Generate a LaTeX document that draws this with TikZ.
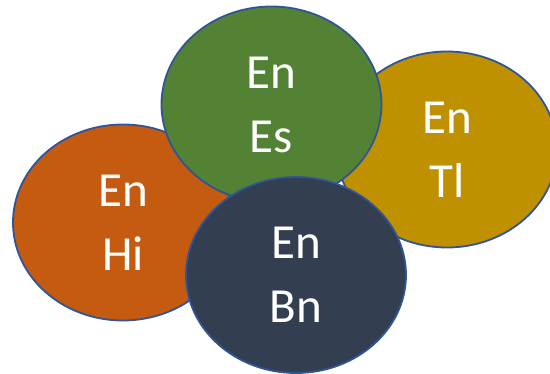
\documentclass[tikz,border=0pt]{standalone}
\usepackage{fontspec}
\setmainfont{Carlito}
\usepackage{tikz}
\usetikzlibrary{shapes.geometric}

\definecolor{rimblue}{HTML}{2F5597}
\definecolor{hiorange}{HTML}{C55A11}
\definecolor{esgreen}{HTML}{548235}
\definecolor{tlgold}{HTML}{BF9000}
\definecolor{bnslate}{HTML}{333F50}

\begin{document}
\begin{tikzpicture}[x=1pt,y=-1pt,
	lang/.style={ellipse,draw=rimblue,line width=1.8pt,minimum width=220pt,minimum height=196pt,
		inner sep=0pt,align=center,text=white,font=\fontsize{49}{64}\selectfont}]
	\useasboundingbox (0,0) rectangle (550,374);
	\begin{scope}
		\clip (0,0) rectangle (550,374);
		
		% languages
		\node[lang,fill=hiorange] (hi) at (123,222.5) {En\\Hi};
		\node[lang,fill=tlgold] (tl) at (447,149.5) {En\\Tl};
		\node[lang,fill=esgreen] (es) at (271.5,104.5) {En\\Es};
		\node[lang,fill=bnslate] (bn) at (296,275) {En\\Bn};
	\end{scope}
\end{tikzpicture}
\end{document}
